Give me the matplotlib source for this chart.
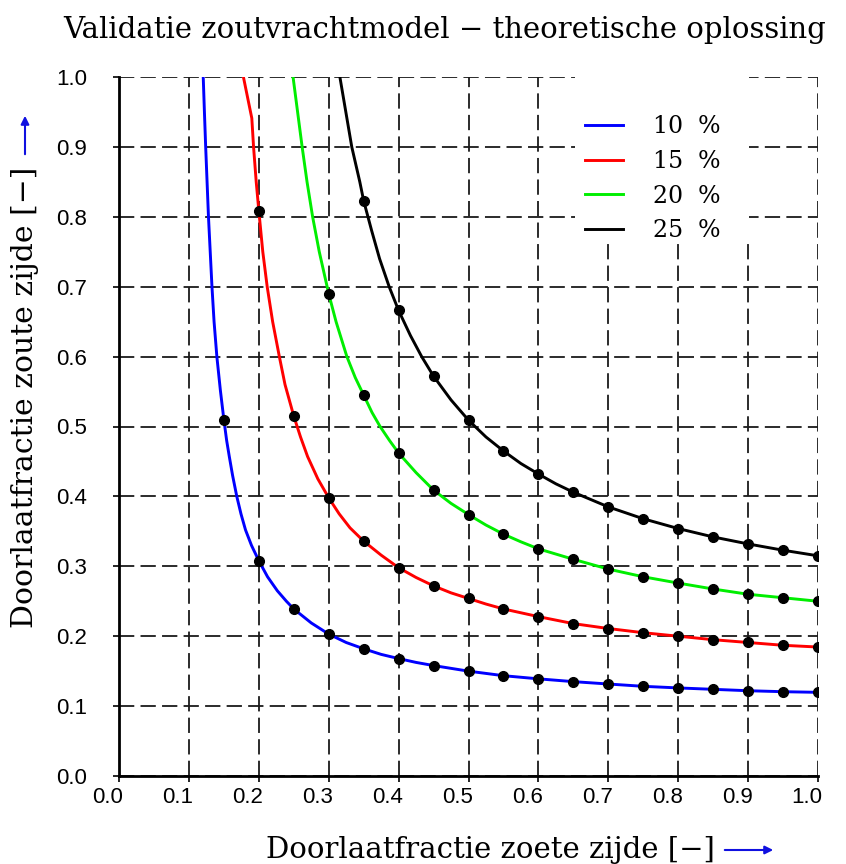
import matplotlib
matplotlib.use('Agg')
import matplotlib.pyplot as plt
import matplotlib.transforms as mtransforms
from matplotlib.patches import Rectangle

plt.rcParams['lines.scale_dashes'] = False

# marker positions (x) and read-off values per series
x_pts = [0.15, 0.20, 0.25, 0.30, 0.35, 0.40, 0.45, 0.50, 0.55,
         0.60, 0.65, 0.70, 0.75, 0.80, 0.85, 0.90, 0.95, 1.00]

blue_pts = [0.510, 0.308, 0.239, 0.203, 0.182, 0.168, 0.158, 0.150, 0.1435,
            0.139, 0.135, 0.1316, 0.1283, 0.126, 0.124, 0.122, 0.1206, 0.1197]
red_pts = [0.809, 0.515, 0.398, 0.336, 0.298, 0.272, 0.254, 0.239,
           0.228, 0.218, 0.211, 0.205, 0.200, 0.195, 0.191, 0.187, 0.1845]
green_pts = [0.690, 0.545, 0.462, 0.409, 0.374, 0.346, 0.325, 0.310,
             0.296, 0.285, 0.276, 0.2675, 0.260, 0.255, 0.250]
black_pts = [0.823, 0.666, 0.572, 0.509, 0.465, 0.432, 0.406, 0.385,
             0.368, 0.354, 0.342, 0.332, 0.323, 0.315]

# extra points read along the curves between the markers
blue_x = [0.1205, 0.1222, 0.124, 0.126, 0.128, 0.1305, 0.133, 0.136, 0.140,
          0.145, 0.154, 0.1578, 0.1625, 0.1685, 0.1745, 0.181, 0.1895,
          0.2125, 0.2265, 0.2395, 0.275, 0.325, 0.375, 0.425, 0.475]
blue_y = [1.0, 0.95, 0.9, 0.85, 0.8, 0.75, 0.7, 0.65, 0.6,
          0.552, 0.48, 0.457, 0.43, 0.40, 0.375, 0.352, 0.33,
          0.285, 0.265, 0.25, 0.219, 0.191, 0.174, 0.1625, 0.154]

red_x = [0.178, 0.190, 0.1925, 0.1963, 0.2057, 0.212, 0.2198, 0.2294, 0.2375,
         0.2597, 0.2698, 0.2845, 0.315, 0.3305, 0.375, 0.425, 0.475, 0.525]
red_y = [1.0, 0.941, 0.9, 0.85, 0.75, 0.70, 0.65, 0.60, 0.56,
         0.485, 0.457, 0.425, 0.375, 0.355, 0.316, 0.284, 0.262, 0.246]

green_x = [0.249, 0.2555, 0.262, 0.269, 0.277, 0.2865, 0.3105, 0.326, 0.338,
           0.362, 0.3735, 0.387, 0.425, 0.475, 0.525, 0.575]
green_y = [1.0, 0.95, 0.9, 0.85, 0.8, 0.75, 0.65, 0.60, 0.57,
           0.52, 0.50, 0.48, 0.434, 0.390, 0.359, 0.335]

black_x = [0.316, 0.3245, 0.333, 0.3445, 0.3615, 0.3728, 0.3865, 0.417, 0.433,
           0.475, 0.525, 0.575, 0.625]
black_y = [1.0, 0.95, 0.9, 0.85, 0.78, 0.74, 0.70, 0.63, 0.60,
           0.538, 0.485, 0.447, 0.418]

labels = ['10  %', '15  %', '20  %', '25  %']
colors = ['#0000ff', '#ff0000', '#00ee00', '#000000']
ticks = [0.0, 0.1, 0.2, 0.3, 0.4, 0.5, 0.6, 0.7, 0.8, 0.9, 1.0]

series = [
    (x_pts, blue_pts, blue_x, blue_y),
    (x_pts[1:], red_pts, red_x, red_y),
    (x_pts[3:], green_pts, green_x, green_y),
    (x_pts[4:], black_pts, black_x, black_y),
]

serif = 'DejaVu Serif'
sans = 'Liberation Sans'

fig = plt.figure(figsize=(8.46, 8.64), dpi=100)
ax = fig.add_axes([119/846, 1-776/864, 699/846, 699/864])

handles = []
for (mx, my, ex, ey), col, lab in zip(series, colors, labels):
    pts = sorted(zip(list(mx) + ex, list(my) + ey))
    cx = [p[0] for p in pts]
    cy = [p[1] for p in pts]
    h, = ax.plot(cx, cy, color=col, lw=2.1, label=lab, zorder=3)
    ax.plot(mx, my, 'o', color='black', ms=7, zorder=4)
    handles.append(h)

ax.set_xlim(0, 1)
ax.set_ylim(0, 1)
ax.set_xticks(ticks)
ax.set_yticks(ticks)
ax.set_xticklabels(['%.1f' % t for t in ticks])
ax.set_yticklabels(['%.1f' % t for t in ticks])
ax.grid(True, color='#1a1a1a', lw=1.3, linestyle=(0, (11, 4.5)))
ax.set_axisbelow(True)

for s in ['top', 'right']:
    ax.spines[s].set_visible(False)
for s in ['left', 'bottom']:
    ax.spines[s].set_linewidth(2.0)

ax.tick_params(direction='out', length=4, width=1.2, labelsize=16)
ax.tick_params(axis='y', pad=19)
ax.tick_params(axis='x', pad=4)
dx = mtransforms.ScaledTranslation(-0.11, 0, fig.dpi_scale_trans)
for lbl in ax.get_xticklabels():
    lbl.set_family(sans)
    lbl.set_transform(lbl.get_transform() + dx)
for lbl in ax.get_yticklabels():
    lbl.set_family(sans)

# white box behind the legend
ax.add_patch(Rectangle((0.652, 0.77), 0.25, 0.26, transform=ax.transAxes,
                       facecolor='white', edgecolor='none', zorder=2.5,
                       clip_on=False))
leg = ax.legend(handles=handles, loc='upper left', bbox_to_anchor=(0.6667, 0.945),
                frameon=False, prop={'family': serif, 'size': 17},
                handlelength=1.6, handletextpad=1.3, labelspacing=0.49,
                borderpad=0, borderaxespad=0)
leg.set_zorder(5)

fig.text(445/846, 1-30/864, 'Validatie zoutvrachtmodel \u2212 theoretische oplossing',
         ha='center', va='center', family=serif, size=21)
fig.text(490/846, 1-850/864, 'Doorlaatfractie zoete zijde [\u2212]',
         ha='center', va='center', family=serif, size=21)
fig.text(25/846, 1-397/864, 'Doorlaatfractie zoute zijde [\u2212]',
         ha='center', va='center', rotation=90, family=serif, size=21.5)

arrow = dict(arrowstyle='-|>', color='#1010e0', lw=1.5, mutation_scale=12)
ax.annotate('', xy=(776/846, 1-850/864), xytext=(722/846, 1-850/864),
            xycoords='figure fraction', arrowprops=arrow, annotation_clip=False)
ax.annotate('', xy=(25/846, 1-113/864), xytext=(25/846, 1-157/864),
            xycoords='figure fraction', arrowprops=arrow, annotation_clip=False)

fig.savefig('out.png', dpi=100)
